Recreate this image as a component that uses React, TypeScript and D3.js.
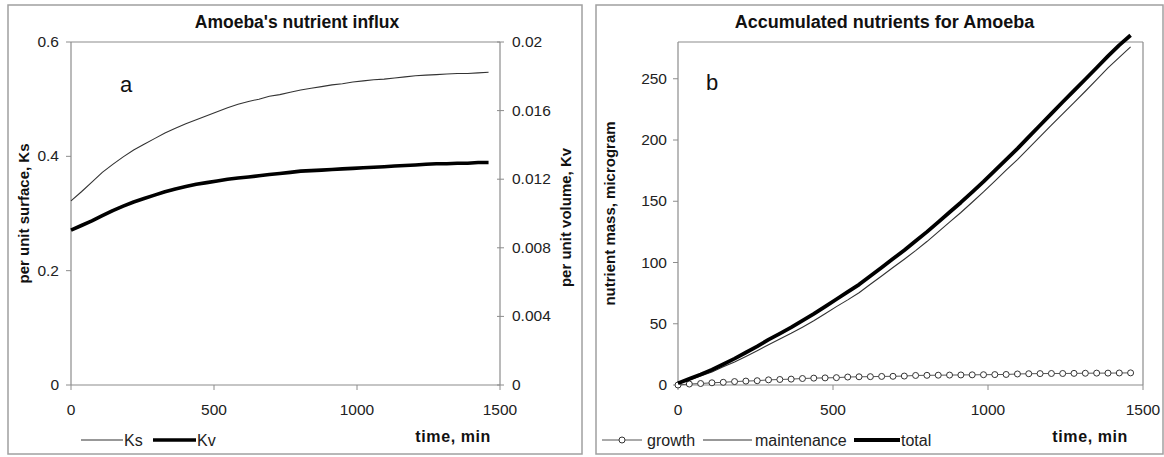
import React from "react";
import * as d3 from "d3";

// ---- shared time axis (min) ----
const times = [0, 36.5, 73, 109.5, 146, 182.5, 219, 255.5, 292, 328.5, 365, 401.5, 438, 474.5, 511, 547.5, 584, 620.5, 657, 693.5, 730, 766.5, 803, 839.5, 876, 912.5, 949, 985.5, 1022, 1058.5, 1095, 1131.5, 1168, 1204.5, 1241, 1277.5, 1314, 1350.5, 1387, 1423.5, 1460];

// ---- panel a ----
const ksValues = [0.322, 0.338, 0.355, 0.372, 0.386, 0.399, 0.411, 0.421, 0.431, 0.441, 0.449, 0.457, 0.464, 0.471, 0.478, 0.485, 0.491, 0.496, 0.5, 0.505, 0.508, 0.512, 0.516, 0.519, 0.522, 0.525, 0.527, 0.53, 0.532, 0.534, 0.535, 0.537, 0.539, 0.541, 0.542, 0.543, 0.544, 0.545, 0.545, 0.546, 0.547];
const kvValues = [0.00903, 0.0093, 0.00957, 0.00987, 0.01017, 0.01043, 0.01067, 0.01087, 0.01107, 0.01127, 0.01143, 0.01157, 0.0117, 0.0118, 0.0119, 0.012, 0.01207, 0.01213, 0.0122, 0.01227, 0.01233, 0.0124, 0.01247, 0.0125, 0.01253, 0.01257, 0.0126, 0.01263, 0.01267, 0.0127, 0.01273, 0.01277, 0.0128, 0.01283, 0.01287, 0.0129, 0.0129, 0.01293, 0.01293, 0.01297, 0.01297];
const aXTicks = [0, 500, 1000, 1500];
const aYLeftTicks = [0, 0.2, 0.4, 0.6];
const aYRightTicks = [0, 0.004, 0.008, 0.012, 0.016, 0.02];

// ---- panel b ----
const growthValues = [0, 0.8, 1.2, 1.8, 2.2, 2.8, 3.2, 3.5, 4.2, 4.5, 4.8, 5.3, 5.6, 5.8, 6, 6.5, 6.7, 6.8, 7, 7.1, 7.3, 7.8, 7.9, 8, 8.1, 8.2, 8.3, 8.4, 8.5, 8.6, 9, 9.2, 9.3, 9.4, 9.4, 9.5, 9.6, 9.7, 9.7, 9.8, 9.9];
const maintenanceValues = [1.5, 4.2, 7.3, 10.7, 14.8, 18.7, 23.3, 28, 32.8, 37.5, 42.2, 47.2, 52.4, 58.2, 64, 69.5, 75.3, 82.2, 89, 95.9, 102.7, 109.7, 117.1, 125, 132.9, 140.8, 149.2, 157.6, 166.5, 175.4, 184, 193.3, 202.7, 212.1, 221.4, 230.6, 239.8, 249.3, 258.8, 267.5, 276];
const totalValues = [1.5, 5, 8.5, 12.5, 17, 21.5, 26.5, 31.5, 37, 42, 47, 52.5, 58, 64, 70, 76, 82, 89, 96, 103, 110, 117.5, 125, 133, 141, 149, 157.5, 166, 175, 184, 193, 202.5, 212, 221.5, 231, 240.3, 249.6, 259, 268.5, 277.5, 285.5];
const bXTicks = [0, 500, 1000, 1500];
const bYTicks = [0, 50, 100, 150, 200, 250];

const FONT = "'Liberation Sans', Arial, sans-serif";
const AXIS = "#8c8c8c";
const TXT = "#222";

export default function App() {
  // panel a geometry
  const ax = d3.scaleLinear().domain([0, 1500]).range([71, 500]);
  const ayL = d3.scaleLinear().domain([0, 0.6]).range([385, 42]);
  const ayR = d3.scaleLinear().domain([0, 0.02]).range([385, 42]);
  // panel b geometry
  const bx = d3.scaleLinear().domain([0, 1500]).range([678, 1143]);
  const by = d3.scaleLinear().domain([0, 280]).range([385, 42]);

  const ksLine = d3.line<number>().x((_, i) => ax(times[i])).y((d) => ayL(d))(ksValues) || "";
  const kvLine = d3.line<number>().x((_, i) => ax(times[i])).y((d) => ayR(d))(kvValues) || "";
  const grLine = d3.line<number>().x((_, i) => bx(times[i])).y((d) => by(d))(growthValues) || "";
  const mtLine = d3.line<number>().x((_, i) => bx(times[i])).y((d) => by(d))(maintenanceValues) || "";
  const ttLine = d3.line<number>().x((_, i) => bx(times[i])).y((d) => by(d))(totalValues) || "";

  const fmtR = (v: number) => (v === 0 ? "0" : String(+v.toFixed(3)));

  return (
    <svg width={1164} height={457} style={{ position: "absolute", left: 0, top: 0, background: "#fff" }} fontFamily={FONT}>
      {/* panel borders */}
      <rect x={8} y={5} width={574} height={449} fill="#fff" stroke="#a0a0a0" strokeWidth={1.5} />
      <rect x={596} y={5} width={567} height={449} fill="#fff" stroke="#a0a0a0" strokeWidth={1.5} />

      {/* ===== Panel a ===== */}
      <text x={297} y={28} textAnchor="middle" fontWeight="bold" fontSize={17.5} fill="#111">Amoeba's nutrient influx</text>
      {/* plot box */}
      <line x1={ax(0)} x2={ax(1500)} y1={ayL(0.6)} y2={ayL(0.6)} stroke={AXIS} strokeWidth={1.2} />
      <line x1={ax(0)} x2={ax(0)} y1={ayL(0)} y2={ayL(0.6)} stroke={AXIS} strokeWidth={1.2} />
      <line x1={ax(1500)} x2={ax(1500)} y1={ayL(0)} y2={ayL(0.6)} stroke={AXIS} strokeWidth={1.2} />
      <line x1={ax(0)} x2={ax(1500)} y1={ayL(0)} y2={ayL(0)} stroke={AXIS} strokeWidth={1.2} />
      {aYLeftTicks.map((t) => (
        <g key={"ayl" + t}>
          <line x1={ax(0) - 5} x2={ax(0)} y1={ayL(t)} y2={ayL(t)} stroke={AXIS} />
          <text x={ax(0) - 12} y={ayL(t) + 5} textAnchor="end" fontSize={15.5} fill={TXT}>{t === 0 ? "0" : String(t)}</text>
        </g>
      ))}
      {aYRightTicks.map((t) => (
        <g key={"ayr" + t}>
          <line x1={ax(1500) - 3} x2={ax(1500) + 4} y1={ayR(t)} y2={ayR(t)} stroke={AXIS} />
          <text x={ax(1500) + 12} y={ayR(t) + 5} textAnchor="start" fontSize={15.5} fill={TXT}>{fmtR(t)}</text>
        </g>
      ))}
      {aXTicks.map((t) => (
        <g key={"ax" + t}>
          <line x1={ax(t)} x2={ax(t)} y1={ayL(0)} y2={ayL(0) + 5} stroke={AXIS} />
          <text x={ax(t)} y={415} textAnchor="middle" fontSize={15.5} fill={TXT}>{t}</text>
        </g>
      ))}
      <text x={120} y={92} fontSize={22} fill="#111">a</text>
      <path d={ksLine} fill="none" stroke="#333" strokeWidth={1.1} />
      <path d={kvLine} fill="none" stroke="#000" strokeWidth={3.6} strokeLinejoin="round" />
      <text transform={`translate(29,${(ayL(0) + ayL(0.6)) / 2}) rotate(-90)`} textAnchor="middle" fontWeight="bold" fontSize={15} fill="#111">per unit surface, Ks</text>
      <text transform={`translate(571,${(ayL(0) + ayL(0.6)) / 2 + 4}) rotate(-90)`} textAnchor="middle" fontWeight="bold" fontSize={15} fill="#111">per unit volume, Kv</text>
      <text x={491} y={442} textAnchor="end" fontWeight="bold" fontSize={16} letterSpacing={0.6} fill="#111">time, min</text>
      {/* legend a */}
      <line x1={81} x2={123} y1={440} y2={440} stroke="#333" strokeWidth={1.1} />
      <text x={124} y={445.5} fontSize={16} fill={TXT}>Ks</text>
      <line x1={153} x2={196} y1={440} y2={440} stroke="#000" strokeWidth={3.6} />
      <text x={197} y={445.5} fontSize={16} fill={TXT}>Kv</text>

      {/* ===== Panel b ===== */}
      <text x={884.5} y={28} textAnchor="middle" fontWeight="bold" fontSize={18} fill="#111">Accumulated nutrients for Amoeba</text>
      <line x1={bx(0)} x2={bx(1500)} y1={42} y2={42} stroke={AXIS} strokeWidth={1.2} />
      <line x1={bx(1500)} x2={bx(1500)} y1={42} y2={by(0)} stroke={AXIS} strokeWidth={1.2} />
      <line x1={bx(0)} x2={bx(0)} y1={42} y2={by(0)} stroke={AXIS} strokeWidth={1.2} />
      <line x1={bx(0)} x2={bx(1500)} y1={by(0)} y2={by(0)} stroke={AXIS} strokeWidth={1.2} />
      {bYTicks.map((t) => (
        <g key={"by" + t}>
          <line x1={bx(0) - 5} x2={bx(0)} y1={by(t)} y2={by(t)} stroke={AXIS} />
          <text x={bx(0) - 11} y={by(t) + 5} textAnchor="end" fontSize={15.5} fill={TXT}>{t}</text>
        </g>
      ))}
      {bXTicks.map((t) => (
        <g key={"bx" + t}>
          <line x1={bx(t)} x2={bx(t)} y1={by(0)} y2={by(0) + 5} stroke={AXIS} />
          <text x={bx(t)} y={415} textAnchor="middle" fontSize={15.5} fill={TXT}>{t}</text>
        </g>
      ))}
      <text x={706} y={90} fontSize={22} fill="#111">b</text>
      <path d={grLine} fill="none" stroke="#555" strokeWidth={1} />
      {growthValues.map((v, i) => (
        <circle key={"g" + i} cx={bx(times[i])} cy={by(v)} r={3} fill="#fff" stroke="#333" strokeWidth={1} />
      ))}
      <path d={mtLine} fill="none" stroke="#333" strokeWidth={1.1} />
      <path d={ttLine} fill="none" stroke="#000" strokeWidth={3.8} strokeLinejoin="round" />
      <text transform={`translate(615,${(by(0) + 42) / 2}) rotate(-90)`} textAnchor="middle" fontWeight="bold" fontSize={15} fill="#111">nutrient mass, microgram</text>
      <text x={1128} y={442} textAnchor="end" fontWeight="bold" fontSize={16} letterSpacing={0.6} fill="#111">time, min</text>
      {/* legend b */}
      <line x1={602} x2={642} y1={440} y2={440} stroke="#555" strokeWidth={1} />
      <circle cx={622} cy={440} r={3} fill="#fff" stroke="#333" strokeWidth={1} />
      <text x={647} y={445.5} fontSize={16} fill={TXT}>growth</text>
      <line x1={703} x2={752} y1={440} y2={440} stroke="#333" strokeWidth={1.1} />
      <text x={755} y={445.5} fontSize={16} fill={TXT}>maintenance</text>
      <line x1={854} x2={900} y1={440} y2={440} stroke="#000" strokeWidth={3.8} />
      <text x={901} y={445.5} fontSize={16} fill={TXT}>total</text>
    </svg>
  );
}
